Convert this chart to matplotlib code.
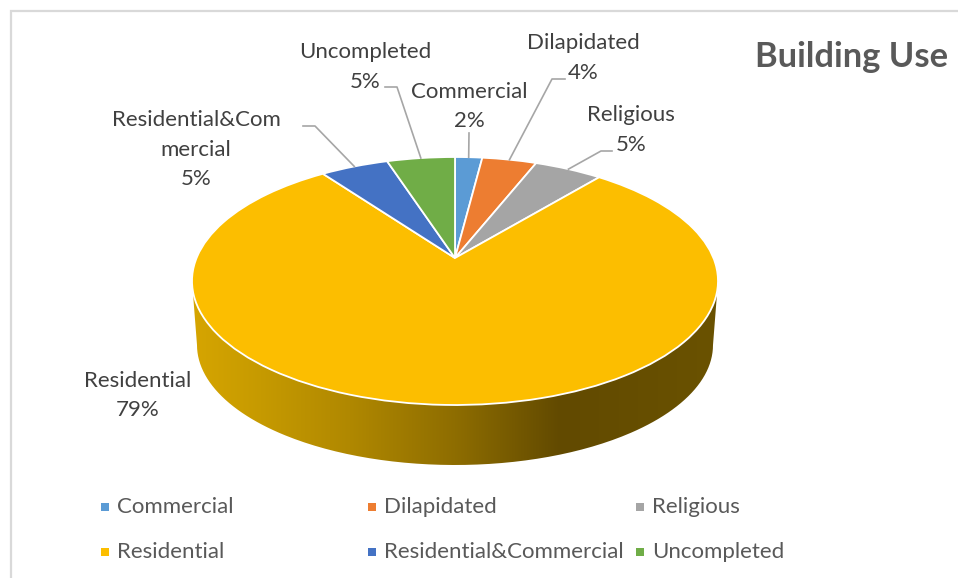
import numpy as np
import matplotlib
matplotlib.use('Agg')
import matplotlib.pyplot as plt
from matplotlib.colors import LinearSegmentedColormap
from matplotlib.patches import PathPatch, Rectangle
from matplotlib.path import Path
from matplotlib.transforms import Transform

categories = ['Commercial', 'Dilapidated', 'Religious', 'Residential', 'Residential&Commercial', 'Uncompleted']
shares = [2, 4, 5, 79, 5, 5]
colors = ['#5B9BD5', '#ED7D31', '#A5A5A5', '#FCBE00', '#4472C4', '#70AD47']

plt.rcParams['font.family'] = ['Lato', 'DejaVu Sans']

W, H = 958, 578

# disc geometry in pixels: hub, rim ellipse and the lower edge of the wall
hub_x, hub_y = 455, 258
rim_rx, rim_top, rim_bottom = 263, 157, 405
low_rx, low_cy, low_bottom = 258, 345, 465
rim_cy = (rim_top + rim_bottom) / 2
rim_ry = (rim_bottom - rim_top) / 2

# perspective constants, far edge of the disc is squeezed against the near edge
up, down = hub_y - rim_top, rim_bottom - hub_y
k = (down - up) / (down + up)
a = up * (1 + k)
c = rim_rx * np.sqrt(1 - k ** 2)


class DiscPerspective(Transform):
    """Maps the unit disc to the tilted disc on the page."""
    input_dims = 2
    output_dims = 2

    def transform_non_affine(self, values):
        values = np.asarray(values, dtype=float)
        w = 1 + k * values[:, 1]
        return np.column_stack([hub_x + c * values[:, 0] / w, hub_y - a * values[:, 1] / w])


persp = DiscPerspective()


def rim_point(share_pos):
    # point on the rim, share_pos in percent clockwise from twelve o'clock
    ang = np.deg2rad(share_pos * 3.6)
    return persp.transform_non_affine(np.array([[np.sin(ang), np.cos(ang)]]))[0]


fig = plt.figure(figsize=(W / 100, H / 100), dpi=100, facecolor='white')

ax = fig.add_axes([0, 0, 1, 1])

# top face, wedges come from pie and are pushed through the perspective map
wedges, _ = ax.pie(shares, colors=colors, startangle=90, counterclock=False, radius=1,
                   wedgeprops={'edgecolor': 'white', 'linewidth': 1.3, 'clip_on': False, 'zorder': 3})
ax.set_aspect('auto')
ax.set_frame_on(False)
ax.set_xlim(0, W)
ax.set_ylim(H, 0)
ax.set_position([0, 0, 1, 1])
ax.set_xticks([])
ax.set_yticks([])
for wedge in wedges:
    wedge.set_transform(persp + ax.transData)

# chart frame, only top and left edges are inside the image
ax.plot([11, 11, W], [H, 11, 11], color='#D9D9D9', lw=1.6, solid_joinstyle='miter', zorder=1)

# side wall of the disc, lower edge is a slightly smaller ellipse
t = np.linspace(0, np.pi, 200)
top_x = hub_x + rim_rx * np.cos(t)
top_y = rim_cy + rim_ry * np.sin(t)
low_x = hub_x + low_rx * np.cos(t)
low_y = low_cy + (low_bottom - low_cy) * np.sin(t)
wall_path = Path(np.column_stack([np.concatenate([top_x, low_x[::-1]]),
                                  np.concatenate([top_y, low_y[::-1]])]))
wall_cmap = LinearSegmentedColormap.from_list('wall', [
    (0.0, '#D6A500'), (0.13, '#C69A00'), (0.3, '#B08800'),
    (0.5, '#8E6D00'), (0.7, '#624A00'), (1.0, '#6A5200')])
wall = ax.imshow(np.linspace(0, 1, 256)[None, :], cmap=wall_cmap, aspect='auto',
                 extent=(hub_x - rim_rx, hub_x + rim_rx, low_bottom, rim_cy), zorder=2)
wall.set_clip_path(PathPatch(wall_path, transform=ax.transData))
ax.set_xlim(0, W)
ax.set_ylim(H, 0)

lab_color = '#404040'
lab_size = 16
label_pos = {
    'Commercial': (469, 92, 121),
    'Dilapidated': (583, 43, 73),
    'Religious': (631, 115, 145),
    'Residential': (138, 381, 410),
    'Uncompleted': (365, 52, 82),
}
for name, (x, y1, y2) in label_pos.items():
    val = shares[categories.index(name)]
    ax.text(x, y1, name, ha='center', va='center', fontsize=lab_size, color=lab_color)
    ax.text(x, y2, f'{val}%', ha='center', va='center', fontsize=lab_size, color=lab_color)

# long category name wraps mid-word in the data label
val = shares[categories.index('Residential&Commercial')]
ax.text(196, 120, 'Residential&Com', ha='center', va='center', fontsize=lab_size, color=lab_color)
ax.text(196, 150, 'mercial', ha='center', va='center', fontsize=lab_size, color=lab_color)
ax.text(196, 179, f'{val}%', ha='center', va='center', fontsize=lab_size, color=lab_color)

# leader lines: rim at the middle of each slice, then the elbow towards its label
elbows = {
    'Commercial': [(469, 133)],
    'Dilapidated': [(552, 79), (565, 79)],
    'Religious': [(601, 151), (612, 151)],
    'Residential&Commercial': [(315, 126), (303, 126)],
    'Uncompleted': [(397, 87), (385, 87)],
}
ends = np.cumsum(shares)
for name, pts in elbows.items():
    i = categories.index(name)
    start = rim_point(ends[i] - shares[i] / 2)
    xs = [start[0]] + [p[0] for p in pts]
    ys = [start[1]] + [p[1] for p in pts]
    ax.plot(xs, ys, color='#A6A6A6', lw=1.2, solid_joinstyle='round', zorder=4)

ax.text(851.5, 57, 'Building Use', ha='center', va='center', fontsize=24.8, fontweight='bold', color='#595959')

# legend, three columns on two rows
legend_x = [105, 372, 640]
legend_y = [507, 552]
for i, name in enumerate(categories):
    lx = legend_x[i % 3]
    ly = legend_y[i // 3]
    ax.add_patch(Rectangle((lx - 4, ly - 4), 8, 8, facecolor=colors[i], edgecolor='none'))
    ax.text(lx + 12.5, ly, name, ha='left', va='center', fontsize=16, color='#595959')

fig.savefig('out.png', dpi=100)
